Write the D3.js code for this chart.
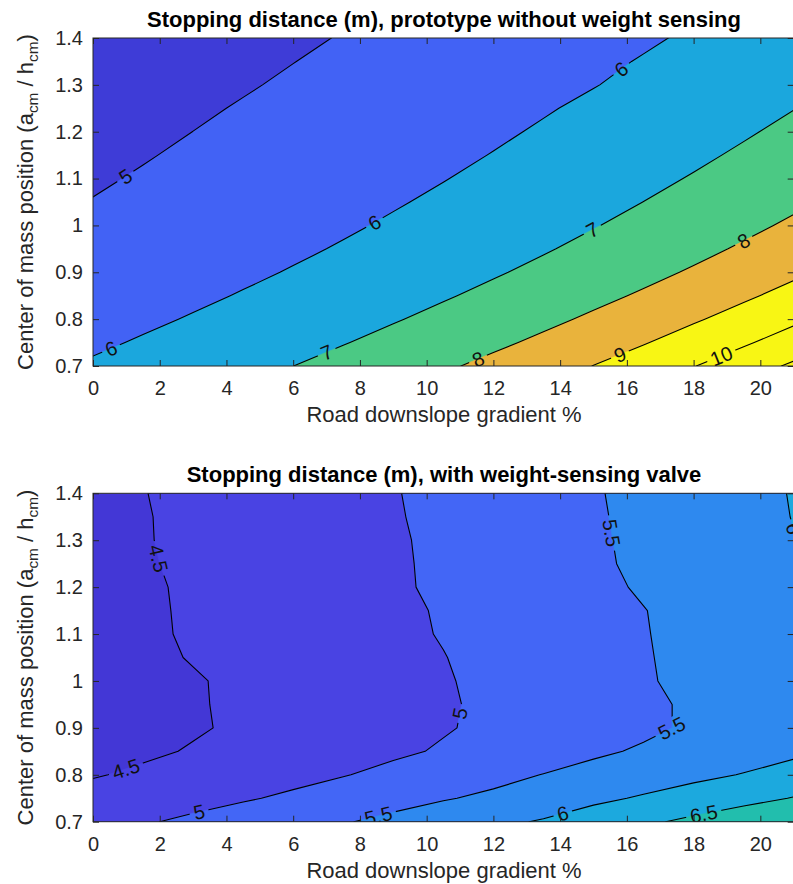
<!DOCTYPE html>
<html>
<head>
<meta charset="utf-8">
<script src="https://cdn.jsdelivr.net/npm/d3@7"></script>
<style>
  body { margin: 0; background: #ffffff; }
  svg text { font-family: "Liberation Sans", Arial, Helvetica, sans-serif; }
</style>
</head>
<body>
<svg id="chart" width="793" height="884"></svg>
<script>
// Grid axes: road downslope gradient (%) and centre-of-mass position ratio a_cm / h_cm
const gradientPct = [0, 1.5, 3, 4.5, 6, 7.5, 9, 10.5, 12, 13.5, 15, 16.5, 18, 19.5, 21];
const positionRatio = [0.70, 0.75, 0.80, 0.85, 0.90, 0.95, 1.00, 1.05, 1.10, 1.15, 1.20, 1.25, 1.30, 1.35, 1.40];

// Tick labels
const xTicks = [0, 2, 4, 6, 8, 10, 12, 14, 16, 18, 20];
const yTicks = [0.7, 0.8, 0.9, 1, 1.1, 1.2, 1.3, 1.4];

// Stopping distance (m), one row per position value, one column per gradient value
const distanceNoSensing = [
  [6.090, 6.294, 6.513, 6.747, 6.998, 7.269, 7.561, 7.879, 8.224, 8.600, 9.013, 9.467, 9.970, 10.529, 11.154],
  [5.879, 6.068, 6.270, 6.485, 6.716, 6.964, 7.231, 7.520, 7.832, 8.171, 8.542, 8.947, 9.392, 9.885, 10.431],
  [5.692, 5.868, 6.055, 6.256, 6.469, 6.698, 6.943, 7.208, 7.493, 7.802, 8.137, 8.502, 8.902, 9.341, 9.825],
  [5.522, 5.687, 5.862, 6.048, 6.246, 6.458, 6.684, 6.928, 7.189, 7.471, 7.776, 8.107, 8.467, 8.861, 9.294],
  [5.371, 5.525, 5.690, 5.864, 6.049, 6.246, 6.457, 6.682, 6.923, 7.183, 7.463, 7.765, 8.093, 8.450, 8.840],
  [5.238, 5.385, 5.540, 5.703, 5.877, 6.062, 6.259, 6.470, 6.694, 6.935, 7.194, 7.473, 7.775, 8.102, 8.457],
  [5.123, 5.262, 5.409, 5.564, 5.729, 5.903, 6.089, 6.286, 6.497, 6.722, 6.964, 7.223, 7.503, 7.805, 8.133],
  [5.020, 5.153, 5.293, 5.440, 5.597, 5.762, 5.938, 6.124, 6.323, 6.535, 6.761, 7.004, 7.265, 7.547, 7.851],
  [4.926, 5.053, 5.187, 5.328, 5.476, 5.634, 5.800, 5.977, 6.165, 6.365, 6.579, 6.807, 7.052, 7.315, 7.599],
  [4.840, 4.962, 5.090, 5.225, 5.367, 5.517, 5.676, 5.844, 6.023, 6.212, 6.414, 6.630, 6.861, 7.108, 7.374],
  [4.762, 4.879, 5.002, 5.131, 5.268, 5.411, 5.563, 5.723, 5.893, 6.074, 6.266, 6.470, 6.688, 6.921, 7.172],
  [4.686, 4.799, 4.917, 5.042, 5.172, 5.310, 5.456, 5.609, 5.772, 5.944, 6.126, 6.321, 6.528, 6.749, 6.985],
  [4.613, 4.720, 4.833, 4.952, 5.076, 5.207, 5.345, 5.490, 5.643, 5.806, 5.977, 6.160, 6.353, 6.560, 6.780],
  [4.541, 4.646, 4.756, 4.871, 4.992, 5.119, 5.253, 5.394, 5.543, 5.700, 5.866, 6.042, 6.229, 6.428, 6.641],
  [4.472, 4.574, 4.679, 4.790, 4.907, 5.029, 5.157, 5.292, 5.435, 5.585, 5.744, 5.912, 6.090, 6.279, 6.481]
];

const distanceWithValve = [
  [4.83, 4.96, 5.08, 5.21, 5.34, 5.47, 5.61, 5.75, 5.90, 6.04, 6.24, 6.42, 6.60, 6.78, 6.96],
  [4.66, 4.76, 4.86, 4.96, 5.07, 5.21, 5.34, 5.47, 5.58, 5.73, 5.90, 6.05, 6.21, 6.36, 6.52],
  [4.47, 4.57, 4.67, 4.78, 4.88, 4.98, 5.11, 5.24, 5.38, 5.51, 5.64, 5.76, 5.89, 6.02, 6.20],
  [4.32, 4.43, 4.53, 4.63, 4.73, 4.83, 4.93, 5.04, 5.17, 5.30, 5.43, 5.55, 5.67, 5.78, 5.90],
  [4.25, 4.35, 4.46, 4.56, 4.66, 4.77, 4.87, 4.97, 5.08, 5.20, 5.31, 5.42, 5.56, 5.75, 5.94],
  [4.27, 4.37, 4.47, 4.56, 4.66, 4.76, 4.86, 4.96, 5.07, 5.19, 5.31, 5.42, 5.56, 5.73, 5.91],
  [4.27, 4.37, 4.47, 4.57, 4.67, 4.77, 4.87, 4.97, 5.09, 5.21, 5.34, 5.46, 5.60, 5.75, 5.90],
  [4.32, 4.42, 4.52, 4.61, 4.71, 4.81, 4.90, 4.99, 5.11, 5.23, 5.35, 5.47, 5.61, 5.76, 5.90],
  [4.35, 4.44, 4.54, 4.63, 4.73, 4.82, 4.92, 5.02, 5.13, 5.25, 5.36, 5.48, 5.62, 5.76, 5.90],
  [4.35, 4.45, 4.54, 4.64, 4.74, 4.83, 4.93, 5.03, 5.14, 5.26, 5.37, 5.49, 5.62, 5.76, 5.91],
  [4.36, 4.45, 4.55, 4.65, 4.75, 4.85, 4.95, 5.06, 5.17, 5.29, 5.41, 5.54, 5.67, 5.81, 5.95],
  [4.37, 4.47, 4.56, 4.66, 4.76, 4.86, 4.95, 5.07, 5.19, 5.32, 5.44, 5.57, 5.71, 5.84, 5.97],
  [4.38, 4.48, 4.57, 4.67, 4.77, 4.86, 4.96, 5.07, 5.20, 5.32, 5.45, 5.58, 5.72, 5.86, 5.99],
  [4.39, 4.48, 4.58, 4.68, 4.78, 4.87, 4.97, 5.09, 5.21, 5.33, 5.46, 5.59, 5.73, 5.87, 6.01],
  [4.39, 4.49, 4.59, 4.69, 4.78, 4.88, 4.98, 5.10, 5.22, 5.34, 5.47, 5.60, 5.74, 5.88, 6.02]
];

// Contour levels
const levelsNoSensing = [5, 6, 7, 8, 9, 10, 11];
const levelsWithValve = [4.5, 5, 5.5, 6, 6.5, 7];

// Inline contour labels: [level, gradient %, position]
const labelsNoSensing = [
  [5, 1.04, 1.097], [6, 0.56, 0.734], [6, 8.46, 1.003], [6, 15.87, 1.33],
  [7, 7.0, 0.73], [7, 14.97, 0.99], [8, 11.54, 0.715], [8, 19.54, 0.962],
  [9, 15.8, 0.723], [10, 18.84, 0.72]
];
const labelsWithValve = [
  [4.5, 1.96, 1.261], [4.5, 1.03, 0.803], [5, 3.2, 0.714], [5, 11.04, 0.93],
  [5.5, 15.5, 1.315], [5.5, 17.37, 0.895], [5.5, 8.55, 0.714], [6, 14.1, 0.712],
  [6.5, 18.3, 0.718], [6, 20.95, 1.31]
];

const titleNoSensing = "Stopping distance (m), prototype without weight sensing";
const titleWithValve = "Stopping distance (m), with weight-sensing valve";
const xLabel = "Road downslope gradient %";

// Band fills (parula-like): below first level, then one per level
const colorsNoSensing = ["#3e3cd7", "#4262f5", "#1ba7dd", "#4bc984", "#e9b33c", "#f8f614", "#f8f614", "#f8f614"];
const colorsWithValve = ["#4337d6", "#4943e3", "#4366f6", "#2e89ef", "#1ca9de", "#22bead", "#30c890"];

const svg = d3.select("#chart");
const W = 793, H = 884;
const plotLeft = 93, plotRight = 793.7;
const axisColor = "#262626";
const tickFont = 20, labelFont = 22, contourFont = 20;

const x = d3.scaleLinear().domain([0, 21]).range([plotLeft, plotRight]);
const defs = svg.append("defs");

svg.append("rect").attr("width", W).attr("height", H).attr("fill", "#ffffff");

function drawPanel(p) {
  const y = d3.scaleLinear().domain([0.7, 1.4]).range([p.bottom, p.top]);
  const clipId = "clip-" + p.id, maskId = "mask-" + p.id;
  defs.append("clipPath").attr("id", clipId).append("rect")
    .attr("x", plotLeft).attr("y", p.top)
    .attr("width", plotRight - plotLeft).attr("height", p.bottom - p.top);

  const nx = gradientPct.length, ny = p.pos.length;
  const gStep = gradientPct[1] - gradientPct[0];
  const cStep = p.pos[1] - p.pos[0];
  // grid coordinates from d3.contours put each value at cell centre (i + 0.5)
  const toPx = (cx, cy) => [x(gradientPct[0] + (cx - 0.5) * gStep), y(p.pos[0] + (cy - 0.5) * cStep)];

  const bands = d3.contours().size([nx, ny]).thresholds(p.levels)(p.grid.flat());
  const path = d3.geoPath(d3.geoTransform({
    point(px, py) { const q = toPx(px, py); this.stream.point(q[0], q[1]); }
  }));

  const panel = svg.append("g");
  const area = panel.append("g").attr("clip-path", `url(#${clipId})`);

  // filled bands
  area.append("rect")
    .attr("x", plotLeft).attr("y", p.top)
    .attr("width", plotRight - plotLeft).attr("height", p.bottom - p.top)
    .attr("fill", p.colors[0]);
  area.append("g").selectAll("path").data(bands).join("path")
    .attr("d", path)
    .attr("fill", (d, i) => p.colors[i + 1])
    .attr("stroke", (d, i) => p.colors[i + 1])
    .attr("stroke-width", 0.6);

  // label placement: nearest point on the matching isoline, text follows its direction
  function place(level, g, c) {
    const band = bands[p.levels.indexOf(level)];
    const tx = x(g), ty = y(c);
    let best = null;
    band.coordinates.forEach(poly => poly.forEach(ring => {
      for (let k = 0; k < ring.length - 1; k++) {
        const a = toPx(ring[k][0], ring[k][1]);
        const b = toPx(ring[k + 1][0], ring[k + 1][1]);
        const mx = (a[0] + b[0]) / 2, my = (a[1] + b[1]) / 2;
        if (mx < plotLeft - 0.5 || mx > plotRight + 0.5 || my < p.top - 0.5 || my > p.bottom + 0.5) continue;
        const dx = b[0] - a[0], dy = b[1] - a[1], L2 = dx * dx + dy * dy;
        if (!L2) continue;
        let t = ((tx - a[0]) * dx + (ty - a[1]) * dy) / L2;
        t = Math.max(0, Math.min(1, t));
        const qx = a[0] + t * dx, qy = a[1] + t * dy;
        const d = (qx - tx) ** 2 + (qy - ty) ** 2;
        if (!best || d < best.d) best = { d, x: qx, y: qy, ang: Math.atan2(dy, dx) * 180 / Math.PI };
      }
    }));
    if (!best) return { x: tx, y: ty, ang: 0 };
    let ang = best.ang;
    while (ang > 90) ang -= 180;
    while (ang <= -90) ang += 180;
    return { x: best.x, y: best.y, ang };
  }

  const labelG = panel.append("g").attr("clip-path", `url(#${clipId})`);
  const mask = defs.append("mask").attr("id", maskId)
    .attr("maskUnits", "userSpaceOnUse")
    .attr("x", 0).attr("y", 0).attr("width", W).attr("height", H);
  mask.append("rect").attr("width", W).attr("height", H).attr("fill", "#fff");

  p.labels.forEach(([level, g, c]) => {
    const pos = place(level, g, c);
    const t = labelG.append("text")
      .attr("transform", `translate(${pos.x},${pos.y}) rotate(${pos.ang})`)
      .attr("text-anchor", "middle")
      .attr("dy", "0.36em")
      .attr("font-size", contourFont)
      .attr("fill", "#111111")
      .text(String(level));
    const w = t.node().getComputedTextLength() + 8;
    const h = contourFont * 0.72 + 6;
    mask.append("rect")
      .attr("transform", `translate(${pos.x},${pos.y}) rotate(${pos.ang})`)
      .attr("x", -w / 2).attr("y", -h / 2).attr("width", w).attr("height", h)
      .attr("fill", "#000");
  });

  // isolines
  panel.insert("g", () => labelG.node())
    .attr("clip-path", `url(#${clipId})`)
    .append("g").attr("mask", `url(#${maskId})`)
    .selectAll("path").data(bands).join("path")
    .attr("d", path)
    .attr("fill", "none")
    .attr("stroke", "#000000")
    .attr("stroke-width", 1.1)
    .attr("stroke-linejoin", "round");

  // axes: ticks point inward on all four sides
  const styleAxis = sel => {
    sel.attr("color", axisColor).attr("font-family", null).attr("font-size", tickFont);
    sel.select(".domain").remove();
    sel.selectAll("text").attr("fill", axisColor);
  };
  panel.append("g").attr("transform", `translate(0,${p.bottom})`)
    .call(d3.axisBottom(x).tickValues(xTicks).tickSize(-6).tickSizeOuter(0).tickPadding(15).tickFormat(d3.format("d")))
    .call(styleAxis);
  panel.append("g").attr("transform", `translate(0,${p.top})`)
    .call(d3.axisTop(x).tickValues(xTicks).tickSize(-6).tickSizeOuter(0).tickFormat(""))
    .call(styleAxis);
  panel.append("g").attr("transform", `translate(${plotLeft},0)`)
    .call(d3.axisLeft(y).tickValues(yTicks).tickSize(-6).tickSizeOuter(0).tickPadding(10).tickFormat(v => String(+v.toFixed(1))))
    .call(styleAxis);
  panel.append("g").attr("transform", `translate(${plotRight},0)`)
    .call(d3.axisRight(y).tickValues(yTicks).tickSize(-6).tickSizeOuter(0).tickFormat(""))
    .call(styleAxis);
  panel.append("rect")
    .attr("x", plotLeft).attr("y", p.top)
    .attr("width", plotRight - plotLeft).attr("height", p.bottom - p.top)
    .attr("fill", "none").attr("stroke", axisColor).attr("stroke-width", 1);

  // title and axis labels
  const cx = 444;
  panel.append("text")
    .attr("x", cx).attr("y", p.top - 11)
    .attr("text-anchor", "middle")
    .attr("font-size", labelFont).attr("font-weight", "bold").attr("fill", "#000")
    .text(p.title);
  panel.append("text")
    .attr("x", cx).attr("y", p.bottom + 56)
    .attr("text-anchor", "middle")
    .attr("font-size", labelFont).attr("fill", axisColor)
    .text(xLabel);
  const yl = panel.append("text")
    .attr("transform", `translate(33,${(p.top + p.bottom) / 2}) rotate(-90)`)
    .attr("text-anchor", "middle")
    .attr("font-size", labelFont).attr("fill", axisColor);
  yl.append("tspan").text("Center of mass position (a");
  yl.append("tspan").attr("font-size", labelFont * 0.7).attr("dy", "0.32em").text("cm");
  yl.append("tspan").attr("dy", "-0.22em").text(" / h");
  yl.append("tspan").attr("font-size", labelFont * 0.7).attr("dy", "0.32em").text("cm");
  yl.append("tspan").attr("dy", "-0.22em").text(")");
}

drawPanel({
  id: "a", top: 38, bottom: 366, pos: positionRatio, grid: distanceNoSensing,
  levels: levelsNoSensing, colors: colorsNoSensing, labels: labelsNoSensing, title: titleNoSensing
});
drawPanel({
  id: "b", top: 493.3, bottom: 821.7, pos: positionRatio, grid: distanceWithValve,
  levels: levelsWithValve, colors: colorsWithValve, labels: labelsWithValve, title: titleWithValve
});
</script>
</body>
</html>
